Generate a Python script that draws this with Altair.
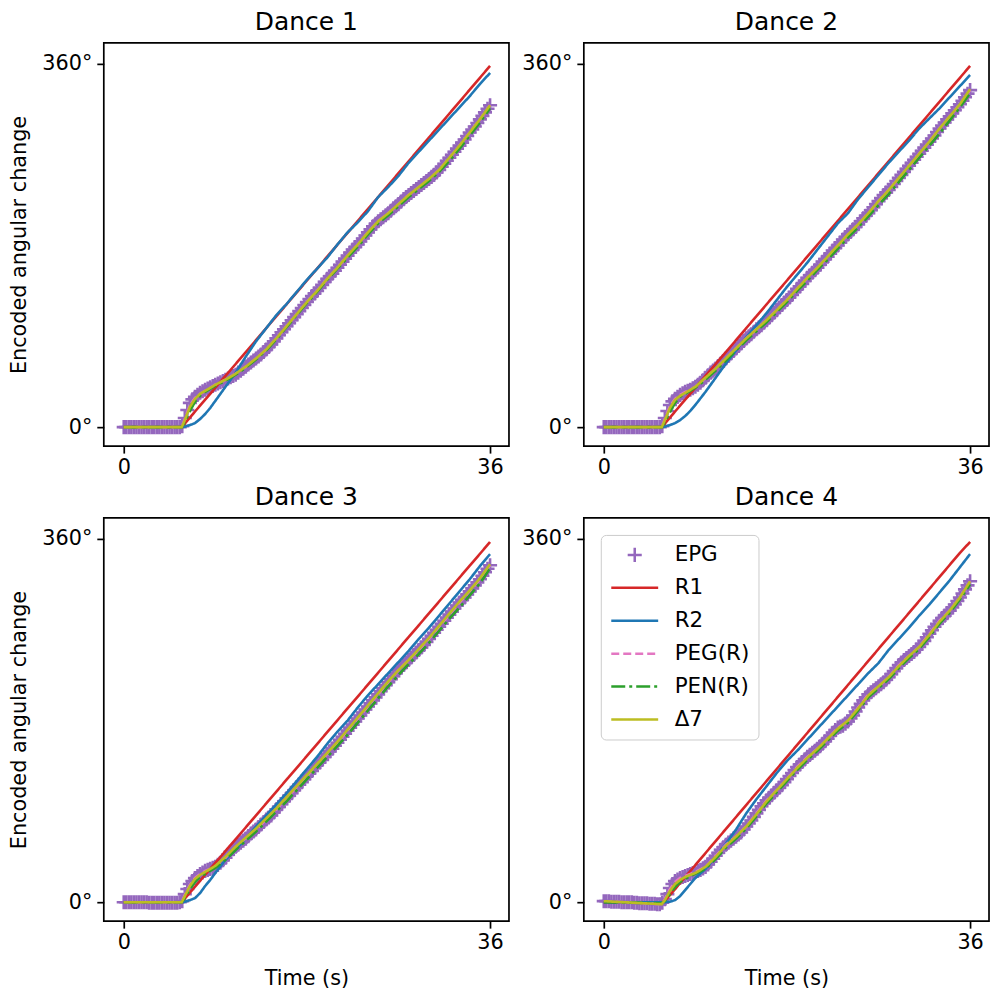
import altair as alt
import pandas as pd

FONT = "DejaVu Sans"

SERIES = ["EPG", "R1", "R2", "PEG(R)", "PEN(R)", "Δ7"]
COLORS = ["#9467bd", "#d62728", "#1f77b4", "#e377c2", "#2ca02c", "#bcbd22"]
DASHES = [[1, 0], [1, 0], [1, 0], [8, 4], [14, 4, 3, 4], [1, 0]]
PLUS = "M-0.3,0L0.3,0M0,-0.3L0,0.3"
SHAPES = [PLUS, "stroke", "stroke", "stroke", "stroke", "stroke"]
DANCES = ["Dance 1", "Dance 2", "Dance 3", "Dance 4"]
X_TICKS = [0, 36]
Y_TICKS = [0, 360]

# EPG samples (every 0.25 s)
T_EPG = [
    0, 0.25, 0.5, 0.75, 1, 1.25, 1.5, 1.75, 2, 2.25, 2.5, 2.75, 3, 3.25, 3.5, 3.75,
    4, 4.25, 4.5, 4.75, 5, 5.25, 5.5, 5.75, 6, 6.25, 6.5, 6.75, 7, 7.25, 7.5, 7.75,
    8, 8.25, 8.5, 8.75, 9, 9.25, 9.5, 9.75, 10, 10.25, 10.5, 10.75, 11, 11.25, 11.5, 11.75,
    12, 12.25, 12.5, 12.75, 13, 13.25, 13.5, 13.75, 14, 14.25, 14.5, 14.75, 15, 15.25, 15.5, 15.75,
    16, 16.25, 16.5, 16.75, 17, 17.25, 17.5, 17.75, 18, 18.25, 18.5, 18.75, 19, 19.25, 19.5, 19.75,
    20, 20.25, 20.5, 20.75, 21, 21.25, 21.5, 21.75, 22, 22.25, 22.5, 22.75, 23, 23.25, 23.5, 23.75,
    24, 24.25, 24.5, 24.75, 25, 25.25, 25.5, 25.75, 26, 26.25, 26.5, 26.75, 27, 27.25, 27.5, 27.75,
    28, 28.25, 28.5, 28.75, 29, 29.25, 29.5, 29.75, 30, 30.25, 30.5, 30.75, 31, 31.25, 31.5, 31.75,
    32, 32.25, 32.5, 32.75, 33, 33.25, 33.5, 33.75, 34, 34.25, 34.5, 34.75, 35, 35.25, 35.5, 35.75,
    36,
]

EPG_1 = [
    0, 0, 0, 0, 0, 0, 0, 0, 0, 0, 0, 0, 0, 0, 0, 0, 0, 0, 0, 0,
    0, 0, 0, 1,
    9, 17, 24, 27.5,
    30, 32, 34, 35.5,
    37, 38.3, 39.5, 40.8,
    42, 43.3, 44.5, 45.8,
    47, 48.2, 49.5, 50.7,
    52, 54, 56, 58,
    60, 62, 64, 66,
    68, 70, 72, 74.5,
    77, 79.5, 82, 85,
    88, 91, 94, 97,
    100, 103, 106, 109,
    112, 115, 118, 121,
    124, 127, 130, 132.5,
    135, 138, 141, 144,
    147, 149.5, 152, 155,
    158, 161, 164, 167,
    170, 173, 176, 178.5,
    181, 184, 187, 190,
    193, 196, 199, 201.5,
    204, 206, 208, 210,
    212, 214.5, 217, 219,
    221, 223.5, 226, 228,
    230, 232, 234, 236,
    238, 240, 242, 244,
    246, 248, 250, 252.5,
    255, 258, 261, 264,
    267, 270, 273, 276,
    279, 282, 285, 288.5,
    292, 295, 298, 301.5,
    305, 308.5, 312, 315.5,
    319,
]
EPG_2 = [
    0, 0, 0, 0, 0, 0, 0, 0, 0, 0, 0, 0, 0, 0, 0, 0, 0, 0, 0, 0,
    0, 0, 0, 1,
    9, 16, 22, 25.5,
    28, 30, 32, 33.5,
    35, 36, 37, 38.5,
    40, 42, 44, 46.5,
    49, 51.5, 54, 56,
    58, 60.5, 63, 65.5,
    68, 70.5, 73, 75.5,
    78, 80.5, 83, 85.5,
    88, 90, 92, 94.5,
    97, 99, 101, 103.5,
    106, 108.5, 111, 113.5,
    116, 118.5, 121, 123.5,
    126, 128.5, 131, 134,
    137, 139.5, 142, 145,
    148, 150.5, 153, 155.5,
    158, 161, 164, 166.5,
    169, 172, 175, 177.5,
    180, 183, 186, 188.5,
    191, 193.5, 196, 198.5,
    201, 204, 207, 209.5,
    212, 215, 218, 221,
    224, 227, 230, 232.5,
    235, 238, 241, 244,
    247, 250, 253, 256,
    259, 262, 265, 268,
    271, 274, 277, 280,
    283, 286, 289, 292.5,
    296, 299, 302, 305,
    308, 311, 314, 317,
    320, 323.5, 327, 330.5,
    334,
]
EPG_3 = [
    0, 0, 0, 0,
    0, 0, 0, 0,
    0, 0, -0.5, -0.5,
    -0.5, -0.5, -0.5, -0.5,
    -0.5, -0.5, -0.5, -0.5,
    -0.5, -0.5, 0, 1,
    8, 13, 18, 21,
    24, 26, 28, 29.5,
    31, 32, 33, 34,
    35, 37, 39, 41.5,
    44, 47, 50, 52.5,
    55, 57, 59, 61,
    63, 65.5, 68, 70,
    72, 74.5, 77, 79.5,
    82, 84, 86, 89,
    92, 94.5, 97, 100,
    103, 105.5, 108, 111,
    114, 116.5, 119, 122,
    125, 127.5, 130, 133,
    136, 138.5, 141, 144,
    147, 149.5, 152, 155,
    158, 161, 164, 167,
    170, 173, 176, 179,
    182, 185, 188, 191,
    194, 197, 200, 203,
    206, 209, 212, 215,
    218, 221, 224, 227,
    230, 232.5, 235, 237.5,
    240, 242.5, 245, 247.5,
    250, 252.5, 255, 258,
    261, 264, 267, 270,
    273, 276, 279, 282,
    285, 288, 291, 294,
    297, 299.5, 302, 305,
    308, 311, 314, 317,
    320, 323.5, 327, 330.5,
    334,
]
EPG_4 = [
    1, 1, 1, 0.5,
    0.5, 0.5, 0.5, 0,
    0, 0, 0, 0,
    -0.5, -0.5, -1, -1,
    -1, -1, -1.5, -1.5,
    -1.5, -2, -2, -0.5,
    3, 8, 14, 18,
    21, 22.5, 24, 25,
    26, 27, 28, 29,
    30, 31, 32, 33.5,
    35, 37.5, 40, 43,
    46, 49, 52, 54.5,
    57, 59, 61, 63,
    65, 67, 69, 72,
    75, 78, 81, 84.5,
    88, 91.5, 95, 98,
    101, 103.5, 106, 108.5,
    111, 113.5, 116, 119,
    122, 125, 128, 131,
    134, 136.5, 139, 141.5,
    144, 146, 148, 150,
    152, 154.5, 157, 159.5,
    162, 165, 168, 170.5,
    173, 174, 175, 177,
    179, 182, 185, 189,
    193, 196.5, 200, 203,
    206, 208, 210, 212,
    214, 216, 218, 220.5,
    223, 226, 229, 232,
    235, 237.5, 240, 242,
    244, 246, 248, 250.5,
    253, 256, 259, 262.5,
    266, 269.5, 273, 276,
    279, 281.5, 284, 286.5,
    289, 292, 295, 298.5,
    302, 306, 310, 314,
    318,
]

# Line samples
T_LINE = [0, 5.7, 6, 6.5, 7, 7.5, 8, 8.5, 9, 10, 11, 12, 13, 14, 15, 16, 17, 18, 19, 20,
          21, 22, 23, 24, 25, 26, 27, 28, 29, 30, 31, 32, 33, 34, 35, 36]

R1_1 = [0, 0, 3.5, 9.5, 15.4, 21.3, 27.2, 33.1, 39.0, 50.8, 62.6, 74.4, 86.2, 98.1, 109.9,
        121.7, 133.5, 145.3, 157.1, 169.0, 180.8, 192.6, 204.4, 216.2, 228.0, 239.8, 251.7,
        263.5, 275.3, 287.1, 298.9, 310.7, 322.5, 334.4, 346.2, 358.0]
R1_2 = [0, 0, 3.5, 9.5, 15.4, 21.3, 27.2, 33.1, 39.0, 50.8, 62.6, 74.4, 86.2, 98.1, 109.9,
        121.7, 133.5, 145.3, 157.1, 169.0, 180.8, 192.6, 204.4, 216.2, 228.0, 239.8, 251.7,
        263.5, 275.3, 287.1, 298.9, 310.7, 322.5, 334.4, 346.2, 358.0]
R1_3 = [0, 0, 3.5, 9.4, 15.3, 21.2, 27.1, 33.0, 38.9, 50.7, 62.4, 74.2, 86.0, 97.8, 109.6,
        121.4, 133.1, 144.9, 156.7, 168.5, 180.3, 192.1, 203.8, 215.6, 227.4, 239.2, 251.0,
        262.8, 274.5, 286.3, 298.1, 309.9, 321.7, 333.5, 345.2, 357.0]
R1_4 = [0, 0, 1.5, 7.0, 13.0, 18.9, 24.9, 30.8, 36.8, 48.7, 60.6, 72.5, 84.4, 96.3, 108.2,
        120.1, 132.0, 143.9, 155.8, 167.7, 179.6, 191.5, 203.4, 215.3, 227.2, 239.1, 251.0,
        262.9, 274.8, 286.7, 298.6, 310.5, 322.4, 334.3, 346.2, 357.0]

R2_1 = [0, 0, 0.5, 2, 4, 8, 13, 19, 26, 40, 54, 70, 85, 98, 111, 122, 134, 146, 157, 168,
        181, 193, 203, 214, 228, 238, 249, 262, 273, 284, 295, 306, 317, 328, 340, 351]
R2_2 = [0, 0, 0.5, 2, 4, 7, 11, 16, 22, 35, 49, 63, 76, 89, 101, 113, 126, 139, 151, 163,
        176, 189, 202, 212, 226, 238, 250, 262, 273, 284, 296, 306, 316, 327, 338, 349]
R2_3 = [0, 0, 0.5, 2, 4, 9, 16, 22, 29, 42, 52, 63, 75, 86, 97, 108, 120, 132, 144, 157,
        169, 180, 193, 205, 216, 227, 238, 249, 261, 272, 284, 296, 308, 320, 333, 345]
R2_4 = [0, 0, 0, 0.5, 2, 6, 12, 18, 24, 33, 45, 58, 72, 88, 102, 115, 128, 140, 150, 161,
        172, 183, 194, 205, 216, 227, 237, 250, 261, 272, 284, 295, 307, 319, 332, 345]

PEG_1 = [0, 0, 8, 22, 29, 33, 36, 39, 42, 47, 53, 60, 68, 77, 88, 100, 112, 124, 135, 147,
         158, 170, 181, 193, 204, 212, 221, 230, 238, 246, 255, 267, 279, 292, 305, 319]
PEG_2 = [0, 0, 8, 21, 28, 32, 35, 37, 40, 49, 58, 68, 78, 88, 97, 106, 116, 126, 137, 148,
         158, 169, 180, 191, 201, 212, 224, 235, 247, 259, 271, 283, 296, 308, 320, 334]
PEG_3 = [0, 0, 7, 17, 24, 28, 31, 33, 35, 44, 55, 63, 72, 82, 92, 103, 114, 125, 136, 147,
         158, 170, 182, 194, 206, 218, 230, 240, 250, 261, 273, 285, 297, 308, 320, 334]
PEG_4 = [1, -2, 3, 13, 20, 24, 26, 28, 30, 35, 46, 57, 65, 75, 88, 101, 111, 122, 134, 144,
         152, 162, 173, 179, 193, 206, 214, 223, 235, 244, 253, 266, 279, 289, 302, 318]

PEN_1 = [0, 0, 5, 16, 25, 31, 35, 38, 41, 46, 52, 59, 67, 76, 87, 99, 111, 123, 134, 146,
         157, 168, 179, 191, 202, 210, 219, 228, 236, 244, 253, 264, 276, 289, 302, 316]
PEN_2 = [0, 0, 5, 15, 24, 30, 33, 36, 39, 47, 56, 66, 76, 86, 95, 104, 114, 124, 135, 145,
         156, 166, 177, 188, 198, 209, 220, 231, 243, 255, 267, 279, 291, 304, 317, 331]
PEN_3 = [0, 0, 4, 13, 20, 25, 28, 31, 34, 42, 52, 61, 70, 80, 90, 100, 111, 122, 133, 144,
         155, 166, 178, 190, 202, 214, 225, 236, 246, 257, 269, 281, 292, 304, 316, 331]
PEN_4 = [0, -1, 1, 8, 15, 20, 23, 26, 28, 33, 43, 54, 63, 73, 85, 98, 109, 120, 131, 141,
         150, 160, 170, 178, 190, 203, 212, 221, 232, 242, 251, 263, 276, 287, 300, 315]

D7_1 = [0, 0, 7, 20, 28, 33, 36, 39, 42, 47, 53, 60, 68, 77, 88, 100, 112, 124, 135, 147,
        158, 170, 181, 193, 204, 212, 221, 230, 238, 246, 255, 267, 279, 292, 305, 319]
D7_2 = [0, 0, 7, 19, 27, 31, 34, 37, 40, 49, 58, 68, 78, 88, 97, 106, 116, 126, 137, 148,
        158, 169, 180, 191, 201, 212, 224, 235, 247, 259, 271, 283, 296, 308, 320, 335]
D7_3 = [0, 0, 6, 16, 23, 27, 30, 33, 36, 45, 55, 64, 73, 83, 93, 104, 115, 126, 137, 148,
        159, 171, 183, 195, 207, 219, 230, 240, 251, 262, 274, 286, 298, 309, 321, 335]
D7_4 = [1, -2, 2, 11, 18, 22, 25, 27, 29, 35, 45, 56, 65, 75, 87, 100, 111, 122, 133, 143,
        152, 162, 172, 180, 192, 205, 214, 223, 234, 244, 253, 265, 278, 289, 302, 318]

EPG = [EPG_1, EPG_2, EPG_3, EPG_4]
LINES = {
    "R1": [R1_1, R1_2, R1_3, R1_4],
    "R2": [R2_1, R2_2, R2_3, R2_4],
    "PEG(R)": [PEG_1, PEG_2, PEG_3, PEG_4],
    "PEN(R)": [PEN_1, PEN_2, PEN_3, PEN_4],
    "Δ7": [D7_1, D7_2, D7_3, D7_4],
}

epg_rows = []
for i, d in enumerate(DANCES):
    assert len(EPG[i]) == len(T_EPG), (i, len(EPG[i]), len(T_EPG))
    for t, v in zip(T_EPG, EPG[i]):
        epg_rows.append({"dance": d, "series": "EPG", "t": t, "v": v})
df_epg = pd.DataFrame(epg_rows)

line_rows = []
for s, arrs in LINES.items():
    for i, d in enumerate(DANCES):
        assert len(arrs[i]) == len(T_LINE), (s, i, len(arrs[i]))
        for t, v in zip(T_LINE, arrs[i]):
            line_rows.append({"dance": d, "series": s, "t": t, "v": v})
df_lines = pd.DataFrame(line_rows)

XDOM = [-1.96, 37.86]
YDOM = [-18.8, 380.8]
W, H = 406, 404

cscale = alt.Scale(domain=SERIES, range=COLORS)
sscale = alt.Scale(domain=SERIES, range=SHAPES)
dscale = alt.Scale(domain=SERIES, range=DASHES)


def make_panel(i):
    d = DANCES[i]
    if i == 3:
        leg = alt.Legend(
            title=None, orient="top-left", offset=17, padding=9,
            fillColor="rgba(255,255,255,0.8)", strokeColor="#cccccc", cornerRadius=5,
            symbolSize=2209, symbolStrokeWidth=2.5, clipHeight=22, rowPadding=11,
            labelFont=FONT, labelFontSize=21.5, labelColor="black", labelOffset=15,
            labelLimit=300,
        )
    else:
        leg = None

    xkw = dict(values=X_TICKS, format="d", grid=False, domain=False, tickSize=7,
               tickWidth=1.7, tickColor="black", labelFont=FONT, labelFontSize=20.8,
               labelColor="black", labelPadding=4, labelFlush=False,
               titleFont=FONT, titleFontSize=20.8, titleFontWeight="normal",
               titleColor="black", titlePadding=17)
    xkw["title"] = "Time (s)" if i >= 2 else ""
    ykw = dict(values=Y_TICKS, labelExpr="datum.value + '°'", grid=False, domain=False,
               tickSize=7, tickWidth=1.7, tickColor="black", labelFont=FONT,
               labelFontSize=20.8, labelColor="black", labelPadding=5, labelFlush=False,
               titleFont=FONT, titleFontSize=20.8, titleFontWeight="normal",
               titleColor="black", titlePadding=12)
    ykw["title"] = "Encoded angular change" if i % 2 == 0 else ""

    x = alt.X("t:Q", scale=alt.Scale(domain=XDOM, nice=False, zero=False), axis=alt.Axis(**xkw))
    y = alt.Y("v:Q", scale=alt.Scale(domain=YDOM, nice=False, zero=False), axis=alt.Axis(**ykw))

    pts = alt.Chart(df_epg[df_epg.dance == d]).mark_point(
        filled=False, opacity=1, strokeWidth=2.6, size=2209
    ).encode(
        x=x, y=y,
        color=alt.Color("series:N", scale=cscale, legend=leg),
        shape=alt.Shape("series:N", scale=sscale, legend=leg),
    )
    layers = [pts]
    for s in SERIES[1:]:
        sub = df_lines[(df_lines.dance == d) & (df_lines.series == s)]
        layers.append(
            alt.Chart(sub).mark_line(strokeWidth=2.6).encode(
                x=x, y=y,
                color=alt.Color("series:N", scale=cscale, legend=leg),
                strokeDash=alt.StrokeDash("series:N", scale=dscale, legend=leg),
            )
        )
    return alt.layer(*layers).properties(
        width=W, height=H,
        title=alt.TitleParams(text=d, font=FONT, fontSize=25, fontWeight="normal",
                              color="black", offset=8, anchor="middle", frame="group"),
    )


panels = [make_panel(i) for i in range(4)]

chart = alt.concat(
    *panels, columns=2, spacing=alt.RowColnumber(row=72, column=75), bounds="flush"
).resolve_scale(
    color="independent", shape="independent", strokeDash="independent"
).resolve_legend(
    color="independent", shape="independent", strokeDash="independent"
).properties(
    padding={"left": 8, "top": 8, "right": 5, "bottom": 5},
    background="white",
).configure(
    font=FONT,
    view=alt.ViewConfig(stroke="black", strokeWidth=1.7),
)

chart.save("out.html", embed_options={"renderer": "svg", "actions": False})
